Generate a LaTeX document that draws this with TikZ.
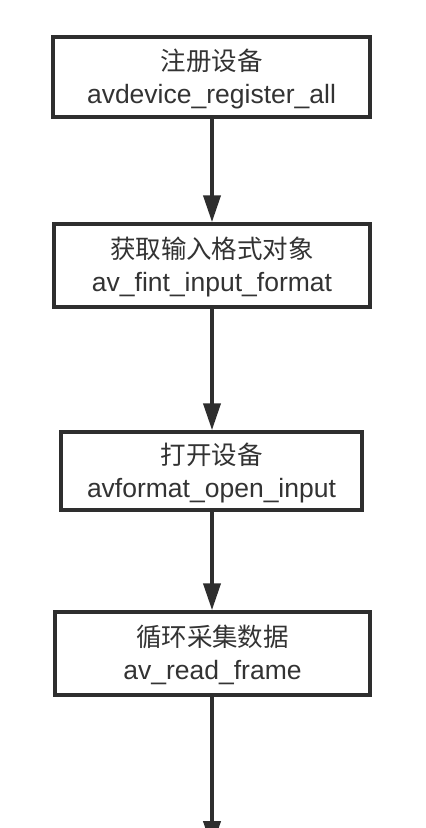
\documentclass[tikz,border=0pt]{standalone}
\usepackage{fontspec}
\setmainfont{Liberation Sans}
\newfontfamily\cjk{Noto Sans CJK SC}
\usetikzlibrary{arrows.meta}
\definecolor{ink}{HTML}{2E2E2E}
\definecolor{txt}{HTML}{333333}
\newcommand{\zh}[1]{{\cjk\fontsize{25.5}{33}\selectfont #1}}
\newcommand{\twolines}[2]{\raisebox{-3pt}[\height][\depth]{\begin{tabular}{@{}c@{}}\zh{#1}\\#2\end{tabular}}}
\tikzset{
  stepbox/.style={draw=ink, line width=3.5pt, fill=white, rectangle, inner sep=0pt,
    text=txt, font=\fontsize{26.5}{33}\selectfont},
  flow/.style={draw=ink, line width=4pt, -{Triangle[width=17pt,length=27pt]}}
}
\begin{document}
\begin{tikzpicture}[x=1pt,y=-1pt]
\useasboundingbox (0,0) rectangle (426,828);
\node[stepbox, minimum width=317pt, minimum height=80pt] (b1) at (211.5,77)
  {\twolines{注册设备}{avdevice\_register\_all}};
\node[stepbox, minimum width=316pt, minimum height=83pt] (b2) at (212,265.5)
  {\twolines{获取输入格式对象}{av\_fint\_input\_format}};
\node[stepbox, minimum width=301pt, minimum height=78pt] (b3) at (211.5,471)
  {\twolines{打开设备}{avformat\_open\_input}};
\node[stepbox, minimum width=315pt, minimum height=83pt] (b4) at (212.5,653.5)
  {\twolines{循环采集数据}{av\_read\_frame}};
\coordinate (end) at (212,848);
\draw[flow] (b1.south -| 212,0) -- (b2.north -| 212,0);
\draw[flow] (b2.south -| 212,0) -- (b3.north -| 212,0);
\draw[flow] (b3.south -| 212,0) -- (b4.north -| 212,0);
\draw[flow] (b4.south -| 212,0) -- (end);
\end{tikzpicture}
\end{document}
